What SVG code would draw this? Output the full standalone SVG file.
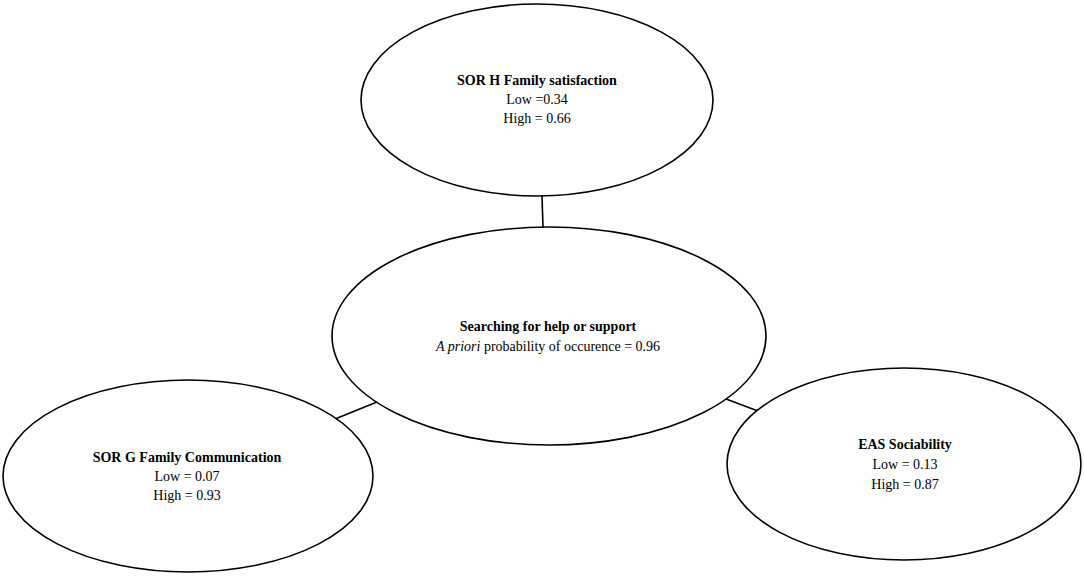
<svg xmlns="http://www.w3.org/2000/svg" width="1084" height="576" viewBox="0 0 1084 576">
<style>
.node ellipse{fill:#fff;stroke:#000;stroke-width:1.6}
.edges line{stroke:#000;stroke-width:1.6}
text{font-family:"Liberation Serif","Times New Roman",serif;font-size:14px;fill:#000;text-anchor:middle}
.b{font-weight:bold}
</style>
<rect width="1084" height="576" fill="#fff"/>
<g class="edges" id="connectors">
<line x1="542" y1="196" x2="543" y2="227"/>
<line x1="335" y1="419" x2="377" y2="402"/>
<line x1="726" y1="399" x2="758" y2="411"/>
</g>
<g class="node" id="n-family-satisfaction">
<ellipse cx="537" cy="100" rx="176" ry="96"/>
<text x="537" y="85" class="b">SOR H Family satisfaction</text>
<text x="537" y="104">Low =0.34</text>
<text x="537" y="123">High = 0.66</text>
</g>
<g class="node" id="n-searching">
<ellipse cx="549" cy="336" rx="217" ry="109"/>
<text x="548" y="331" class="b">Searching for help or support</text>
<text x="548" y="351"><tspan font-style="italic">A priori</tspan> probability of occurence = 0.96</text>
</g>
<g class="node" id="n-family-communication">
<ellipse cx="188" cy="476" rx="185" ry="96"/>
<text x="187" y="462" class="b">SOR G Family Communication</text>
<text x="187" y="481">Low = 0.07</text>
<text x="187" y="500">High = 0.93</text>
</g>
<g class="node" id="n-eas-sociability">
<ellipse cx="904" cy="464" rx="177" ry="96"/>
<text x="905" y="449" class="b">EAS Sociability</text>
<text x="905" y="469">Low = 0.13</text>
<text x="905" y="489">High = 0.87</text>
</g>
</svg>
